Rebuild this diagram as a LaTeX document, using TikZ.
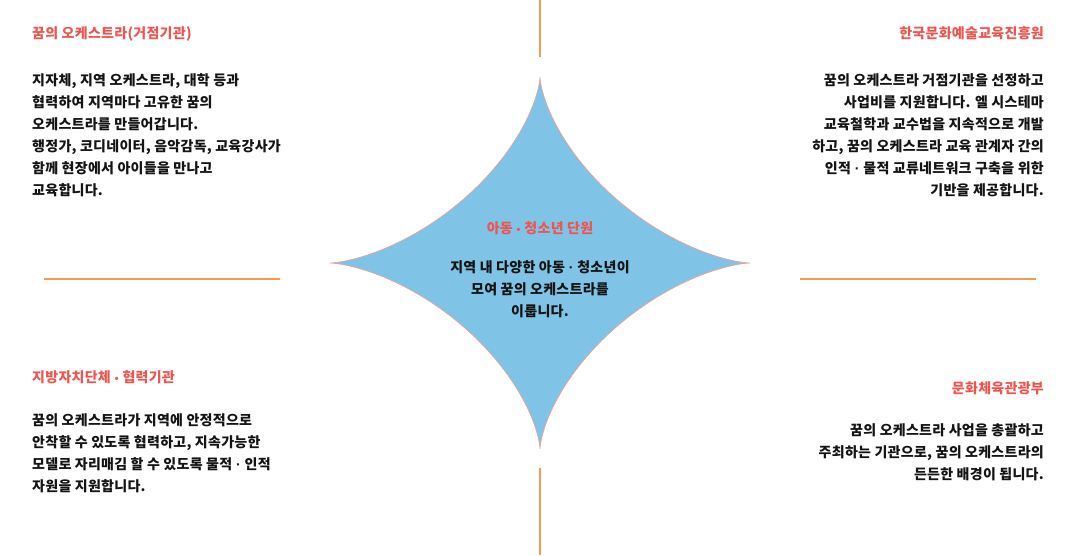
\documentclass[tikz,border=0pt]{standalone}
\usepackage{fontspec}
\setmainfont{Noto Sans CJK KR}[LetterSpace=2]
\newfontfamily\dotfont{Liberation Sans}
\newcommand\mdot{{\dotfont\bfseries\ ·\ }}
\newcommand\tdot{{\dotfont\bfseries\ \raisebox{0.5pt}{\fontsize{11}{11}\selectfont •}\ }}
\definecolor{titlered}{HTML}{F0544F}
\definecolor{lineorange}{HTML}{F39A55}
\definecolor{starblue}{HTML}{7FC4E7}
\definecolor{staredge}{HTML}{E9A29C}
\definecolor{bodyink}{HTML}{141414}
\tikzset{
  divider/.style={draw=lineorange, line width=1.1pt},
  titletext/.style={inner sep=0pt, text=titlered, font=\fontsize{14}{22}\selectfont\bfseries},
  bodytext/.style={inner sep=0pt, text=bodyink, font=\fontsize{14}{22}\selectfont\bfseries},
}
\begin{document}
\begin{tikzpicture}[x=1pt,y=-1pt]
\useasboundingbox (0,0) rectangle (1077,555);
% dividers
\coordinate (vt1) at (540,0);   \coordinate (vt2) at (540,57);
\coordinate (vb1) at (540,468); \coordinate (vb2) at (540,555);
\coordinate (hl1) at (44,279);  \coordinate (hl2) at (280,279);
\coordinate (hr1) at (800,279); \coordinate (hr2) at (1036,279);
\draw[divider] (vt1) -- (vt2);
\draw[divider] (vb1) -- (vb2);
\draw[divider] (hl1) -- (hl2);
\draw[divider] (hr1) -- (hr2);
% star
\fill[starblue, draw=staredge, line width=0.7pt] plot[domain=0:360, samples=240]
  ({540+210*cos(\x)*cos(\x)*cos(\x)},{263+186*sin(\x)*sin(\x)*sin(\x)}) -- cycle;
% centre
\node[titletext, anchor=north] (ct) at (540,221.5) {아동\tdot 청소년 단원};
\node[bodytext, anchor=north, align=center] (cb) at (540,260.5) {지역 내 다양한 아동\mdot 청소년이\\모여 꿈의 오케스트라를\\이룹니다.};
% top left
\node[titletext, anchor=north west] (tlt) at (32,26.5) {꿈의 오케스트라(거점기관)};
\node[bodytext, anchor=north west, align=left] (tlb) at (32,73.5) {지자체, 지역 오케스트라, 대학 등과\\협력하여 지역마다 고유한 꿈의\\오케스트라를 만들어갑니다.\\행정가, 코디네이터, 음악감독, 교육강사가\\함께 현장에서 아이들을 만나고\\교육합니다.};
% top right
\node[titletext, anchor=north east] (trt) at (1044,26.5) {한국문화예술교육진흥원};
\node[bodytext, anchor=north east, align=right] (trb) at (1044,73.5) {꿈의 오케스트라 거점기관을 선정하고\\사업비를 지원합니다. 엘 시스테마\\교육철학과 교수법을 지속적으로 개발\\하고, 꿈의 오케스트라 교육 관계자 간의\\인적\mdot 물적 교류네트워크 구축을 위한\\기반을 제공합니다.};
% bottom left
\node[titletext, anchor=north west] (blt) at (32,370.5) {지방자치단체\tdot 협력기관};
\node[bodytext, anchor=north west, align=left] (blb) at (32,413.5) {꿈의 오케스트라가 지역에 안정적으로\\안착할 수 있도록 협력하고, 지속가능한\\모델로 자리매김 할 수 있도록 물적\mdot 인적\\자원을 지원합니다.};
% bottom right
\node[titletext, anchor=north east] (brt) at (1044,381.5) {문화체육관광부};
\node[bodytext, anchor=north east, align=right] (brb) at (1044,423.5) {꿈의 오케스트라 사업을 총괄하고\\주최하는 기관으로, 꿈의 오케스트라의\\든든한 배경이 됩니다.};
\end{tikzpicture}
\end{document}
